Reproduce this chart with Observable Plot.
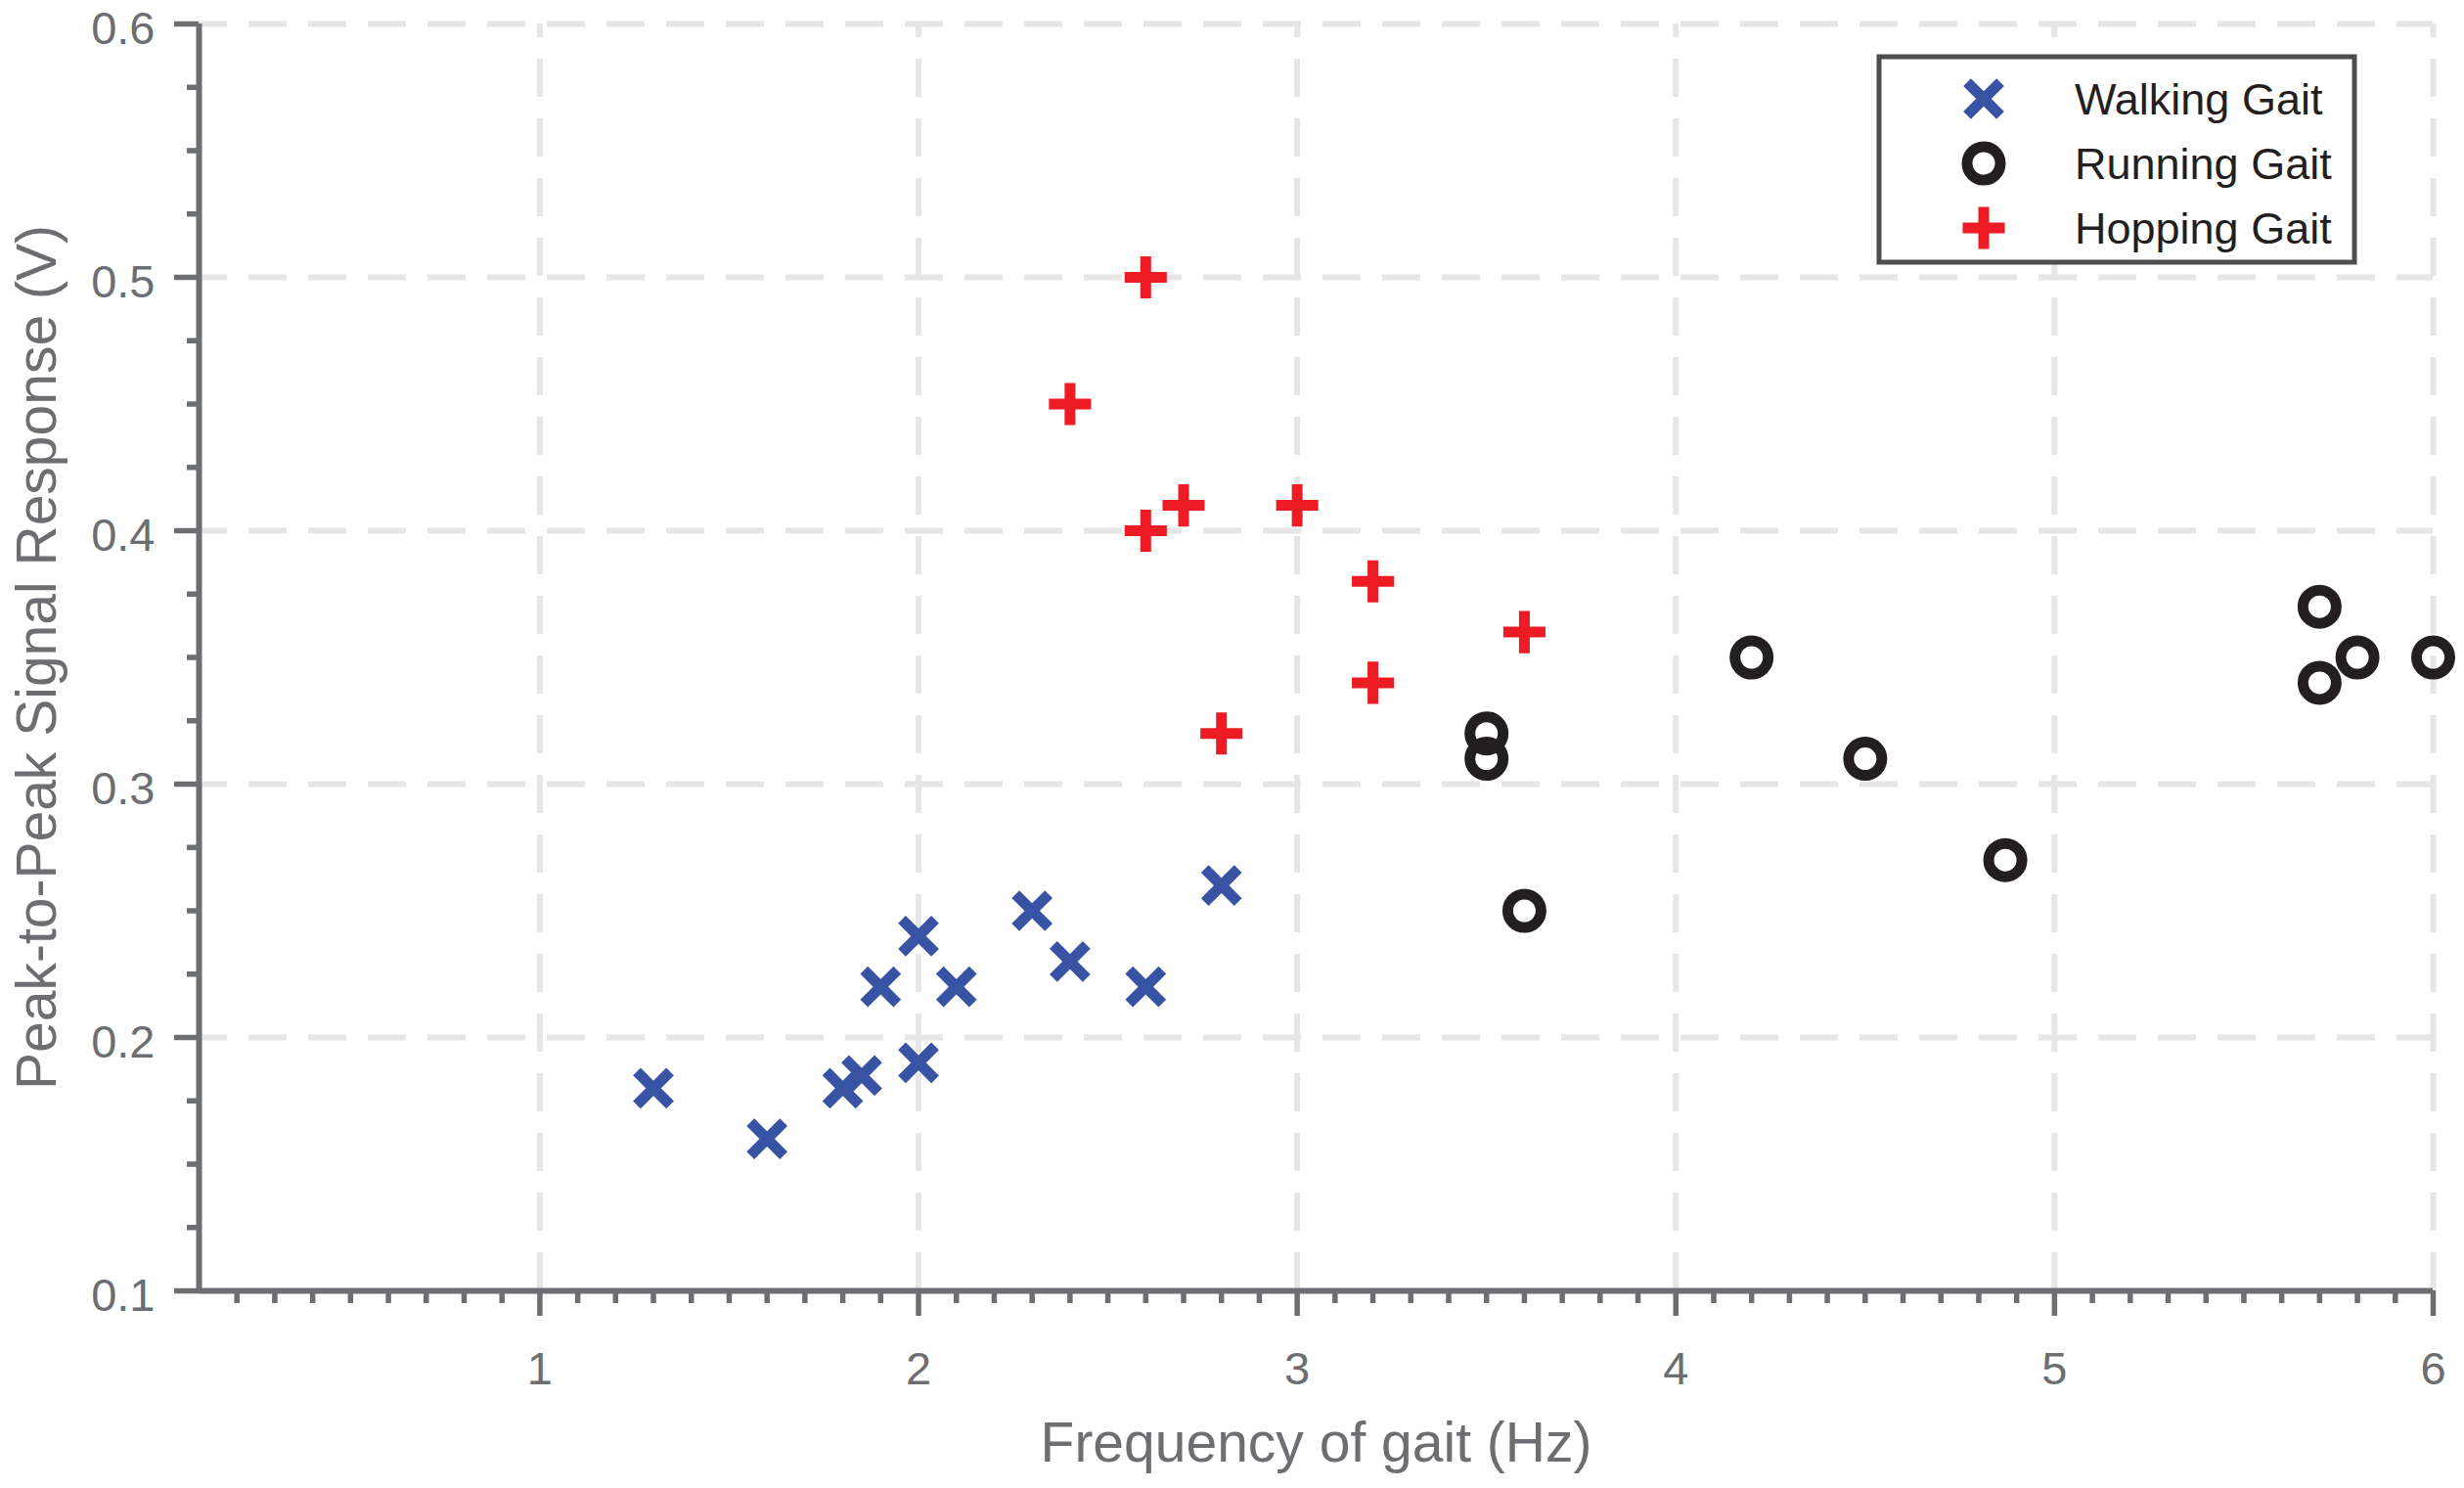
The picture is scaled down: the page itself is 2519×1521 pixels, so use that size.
<!DOCTYPE html>
<html>
<head>
<meta charset="utf-8">
<script src="https://cdn.jsdelivr.net/npm/d3@7"></script>
<script src="https://cdn.jsdelivr.net/npm/@observablehq/plot@0.6"></script>
<style>
  html, body { margin: 0; padding: 0; background: #ffffff; }
  #chart svg { display: block; }
</style>
</head>
<body>
<div id="chart"></div>
<script>
// ---- data ----
const walkingX = [1.3, 1.6, 1.8, 1.85, 1.9, 2.0, 2.0, 2.1, 2.3, 2.4, 2.6, 2.8];
const walkingY = [0.18, 0.16, 0.18, 0.185, 0.22, 0.24, 0.19, 0.22, 0.25, 0.23, 0.22, 0.26];

const runningX = [3.5, 3.5, 3.6, 4.2, 4.5, 4.87, 5.7, 5.7, 5.8, 6.0];
const runningY = [0.32, 0.31, 0.25, 0.35, 0.31, 0.27, 0.37, 0.34, 0.35, 0.35];

const hoppingX = [2.6, 2.4, 2.6, 2.7, 3.0, 3.2, 3.2, 3.6, 2.8];
const hoppingY = [0.50, 0.45, 0.40, 0.41, 0.41, 0.38, 0.34, 0.36, 0.32];

const seriesNames = ["Walking Gait", "Running Gait", "Hopping Gait"];
const xTicks = [1, 2, 3, 4, 5, 6];
const yTicks = [0.1, 0.2, 0.3, 0.4, 0.5, 0.6];
const xLabel = "Frequency of gait (Hz)";
const yLabel = "Peak-to-Peak Signal Response (V)";

// ---- derived ----
const toRows = (xs, ys) => xs.map((x, i) => ({x, y: ys[i]}));
const walking = toRows(walkingX, walkingY);
const running = toRows(runningX, runningY);
const hopping = toRows(hoppingX, hoppingY);

const xMinor = d3.range(2, 60).map(d => d / 10).filter(d => Math.abs(d - Math.round(d)) > 1e-9);
const yMinor = d3.range(4, 24).map(d => d / 40).filter(d => Math.abs(d * 10 - Math.round(d * 10)) > 1e-9);

const AXIS = "#6d6e71";
const GRID = "#e6e6e6";
const FONT = "'Liberation Sans', Arial, Helvetica, sans-serif";

const styles = [
  {name: seriesNames[0], symbol: "times", color: "#3953a4", r: 15.5, sw: 11},
  {name: seriesNames[1], symbol: "circle", color: "#231f20", r: 17, sw: 11},
  {name: seriesNames[2], symbol: "plus", color: "#ed1c24", r: 13.9, sw: 11}
];
const symbolMap = {times: d3.symbolTimes, circle: d3.symbolCircle, plus: d3.symbolPlus};

function legendMark(index, scales, values, dims) {
  const g = d3.create("svg:g");
  const right = dims.width - dims.marginRight;
  const top = dims.marginTop;
  const bw = 486, bh = 210;
  const bx = right - 80 - bw, by = top + 34;
  g.append("rect").attr("x", bx).attr("y", by).attr("width", bw).attr("height", bh)
    .attr("fill", "#ffffff").attr("stroke", "#4d4d4f").attr("stroke-width", 5);
  styles.forEach((s, i) => {
    const cy = by + 43 + i * 66;
    const cx = bx + 107;
    if (s.symbol === "circle") {
      g.append("circle").attr("cx", cx).attr("cy", cy).attr("r", s.r)
        .attr("fill", "none").attr("stroke", s.color).attr("stroke-width", s.sw);
    } else {
      g.append("path").attr("transform", `translate(${cx},${cy})`)
        .attr("d", d3.symbol(symbolMap[s.symbol], Math.PI * s.r * s.r)())
        .attr("fill", "none").attr("stroke", s.color).attr("stroke-width", s.sw);
    }
    g.append("text").attr("x", bx + 200).attr("y", cy).attr("dy", "0.36em")
      .attr("text-anchor", "start")
      .attr("font-family", FONT).attr("font-size", 45).attr("fill", "#231f20")
      .text(s.name);
  });
  return g.node();
}

const chart = Plot.plot({
  width: 2519,
  height: 1521,
  marginLeft: 203,
  marginRight: 32,
  marginTop: 24,
  marginBottom: 202,
  style: {background: "#ffffff", fontFamily: FONT},
  x: {domain: [0.1, 6], label: null},
  y: {domain: [0.1, 0.6], label: null},
  marks: [
    Plot.gridX(xTicks, {stroke: GRID, strokeOpacity: 1, strokeWidth: 6, strokeDasharray: "39,22", strokeDashoffset: 25}),
    Plot.gridY(yTicks.filter(d => d > 0.1), {stroke: GRID, strokeOpacity: 1, strokeWidth: 6, strokeDasharray: "39,22", strokeDashoffset: 10}),
    Plot.axisX({ticks: xMinor, tickSize: 13, tickFormat: () => "", label: null, stroke: AXIS, strokeWidth: 5.5}),
    Plot.axisY({ticks: yMinor, tickSize: 12, tickFormat: () => "", label: null, stroke: AXIS, strokeWidth: 5.5}),
    Plot.axisX({ticks: xTicks, tickSize: 26, tickPadding: 36, fontSize: 47, label: null,
      color: AXIS, strokeWidth: 5.5, tickFormat: d => String(d)}),
    Plot.axisY({ticks: yTicks, tickSize: 25, tickFormat: () => "", label: null, stroke: AXIS, strokeWidth: 5.5}),
    Plot.text(yTicks, {x: 0.1, y: d => d, text: d => d.toFixed(1), textAnchor: "end", dx: -45, dy: 5,
      fontSize: 47, fill: AXIS}),
    Plot.ruleY([0.1], {stroke: AXIS, strokeWidth: 6}),
    Plot.ruleX([0.1], {stroke: AXIS, strokeWidth: 6}),
    Plot.dot(walking, {x: "x", y: "y", symbol: "times", r: styles[0].r, stroke: styles[0].color, strokeWidth: styles[0].sw}),
    Plot.dot(running, {x: "x", y: "y", symbol: "circle", r: styles[1].r, stroke: styles[1].color, strokeWidth: styles[1].sw, fill: "none"}),
    Plot.dot(hopping, {x: "x", y: "y", symbol: "plus", r: styles[2].r, stroke: styles[2].color, strokeWidth: styles[2].sw}),
    Plot.text([xLabel], {frameAnchor: "bottom", textAnchor: "middle", dy: 174, fontSize: 57, fill: AXIS, text: d => d}),
    Plot.text([yLabel], {frameAnchor: "left", textAnchor: "middle", dx: -165, rotate: -90, fontSize: 57, fill: AXIS, text: d => d}),
    legendMark
  ]
});

document.getElementById("chart").appendChild(chart);
</script>
</body>
</html>
